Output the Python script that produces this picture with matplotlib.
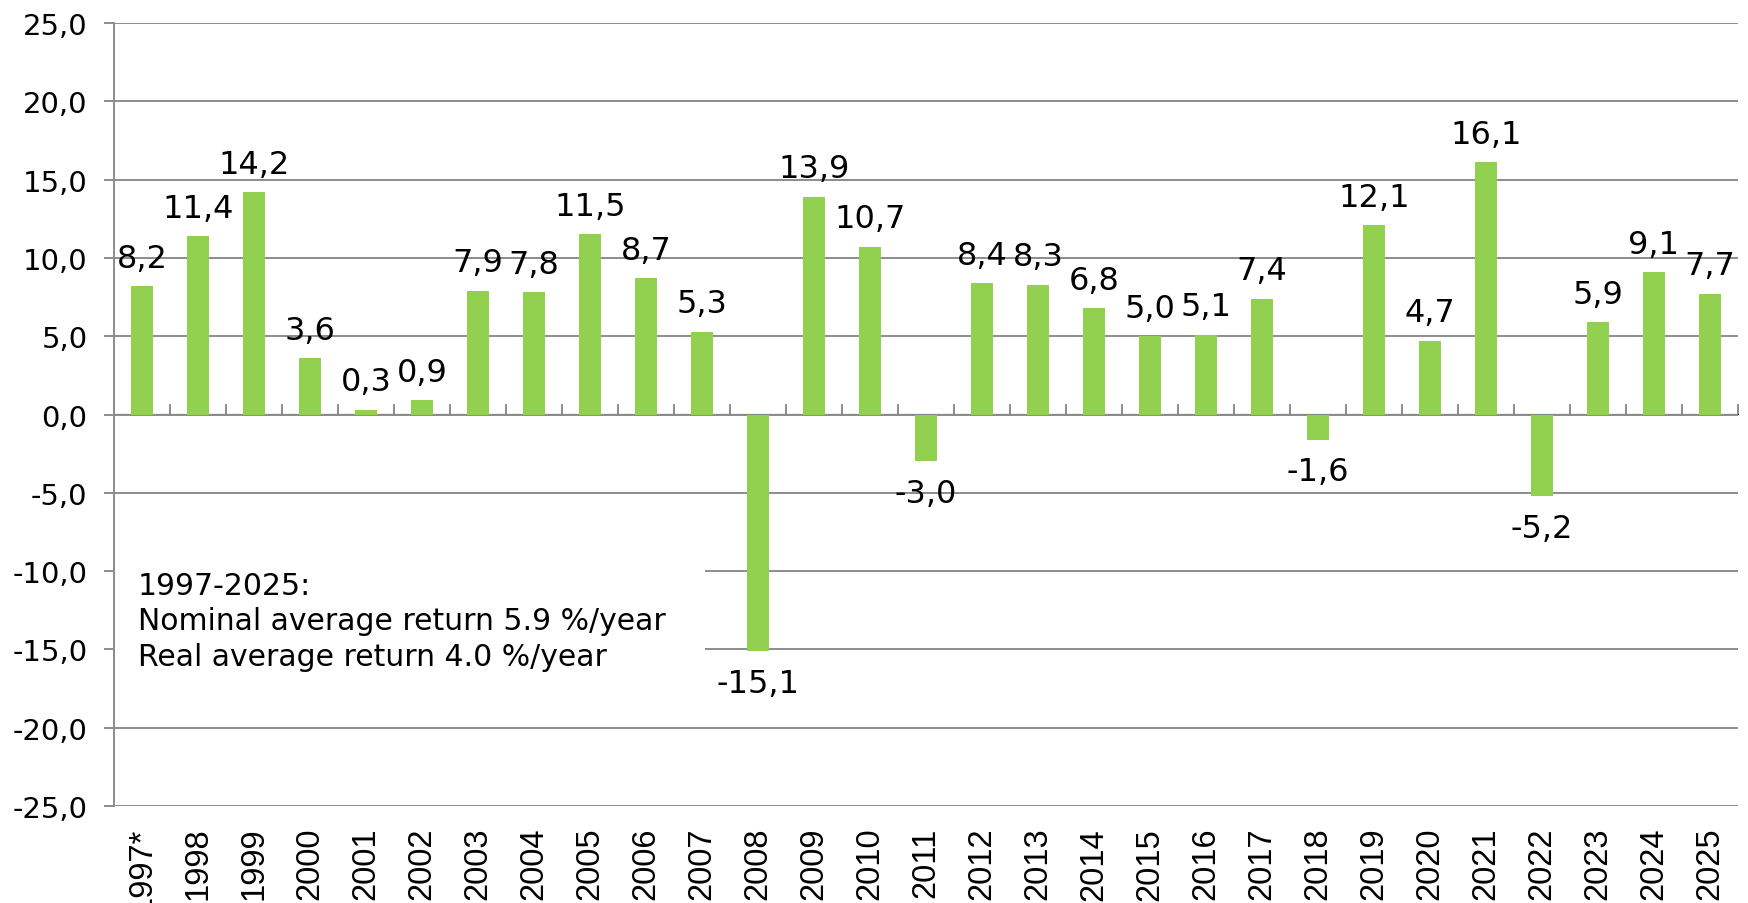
import matplotlib
matplotlib.use("Agg")
import matplotlib.pyplot as plt
from matplotlib.patches import Rectangle
import numpy as np

years = ["1997*", "1998", "1999", "2000", "2001", "2002", "2003", "2004", "2005",
         "2006", "2007", "2008", "2009", "2010", "2011", "2012", "2013", "2014",
         "2015", "2016", "2017", "2018", "2019", "2020", "2021", "2022", "2023",
         "2024", "2025"]
returns = [8.2, 11.4, 14.2, 3.6, 0.3, 0.9, 7.9, 7.8, 11.5, 8.7, 5.3, -15.1, 13.9,
           10.7, -3.0, 8.4, 8.3, 6.8, 5.0, 5.1, 7.4, -1.6, 12.1, 4.7, 16.1, -5.2,
           5.9, 9.1, 7.7]
yticks = [-25, -20, -15, -10, -5, 0, 5, 10, 15, 20, 25]
note = "1997-2025:\nNominal average return 5.9 %/year\nReal average return 4.0 %/year"

GREEN = "#92D050"
GRID = "#8C8C8C"

plt.rcParams["font.family"] = "DejaVu Sans"

fig = plt.figure(figsize=(17.48, 9.04), dpi=100)
ax = fig.add_axes([114 / 1748, 1 - 807 / 904, 1624 / 1748, 783 / 904])

x = np.arange(len(years))
ax.bar(x, returns, width=0.41, color=GREEN, zorder=3)

ax.set_xlim(-0.5, len(years) - 0.5)
ax.set_ylim(-25, 25)
ax.set_yticks(yticks)
ax.set_yticklabels([f"{v:.1f}".replace(".", ",") for v in yticks], fontsize=21)
ax.yaxis.grid(True, color=GRID, linewidth=1.4, zorder=0)
ax.set_axisbelow(True)
ax.tick_params(axis="y", length=7, width=1.4, color=GRID, pad=12)

ax.set_xticks(x)
ax.set_xticklabels(years, rotation=90, fontsize=23.5, family="Liberation Sans",
                   va="top")
ax.tick_params(axis="x", length=0, pad=15)

for side in ["top", "right", "bottom"]:
    ax.spines[side].set_visible(False)
ax.spines["left"].set_color(GRID)
ax.spines["left"].set_linewidth(1.4)

# category axis crossing at zero, ticks between categories
zax = ax.secondary_xaxis(0.5)
zax.set_xticks(np.arange(-0.5, len(years), 1.0))
zax.set_xticklabels([])
zax.tick_params(axis="x", direction="out", length=7, width=1.4, color=GRID)
zax.spines["bottom"].set_color(GRID)
zax.spines["bottom"].set_linewidth(1.4)

# data labels
for xi, v in zip(x, returns):
    txt = f"{v:.1f}".replace(".", ",")
    if v >= 0:
        ax.annotate(txt, (xi, v), xytext=(0, 14), textcoords="offset points",
                    ha="center", va="baseline", fontsize=23, zorder=5)
    else:
        ax.annotate(txt, (xi, v), xytext=(0, -12), textcoords="offset points",
                    ha="center", va="top", fontsize=23, zorder=5)

# note box with white background covering the grid
ax.add_patch(Rectangle((0, 0.17), (705 - 114) / 1624, 0.18, transform=ax.transAxes,
                       facecolor="white", edgecolor="none", zorder=1))
ax.text((138 - 114) / 1624, 0.30, note, transform=ax.transAxes, fontsize=21.5,
        va="top", ha="left", linespacing=1.27, zorder=4)

fig.savefig("out.png", dpi=100)
